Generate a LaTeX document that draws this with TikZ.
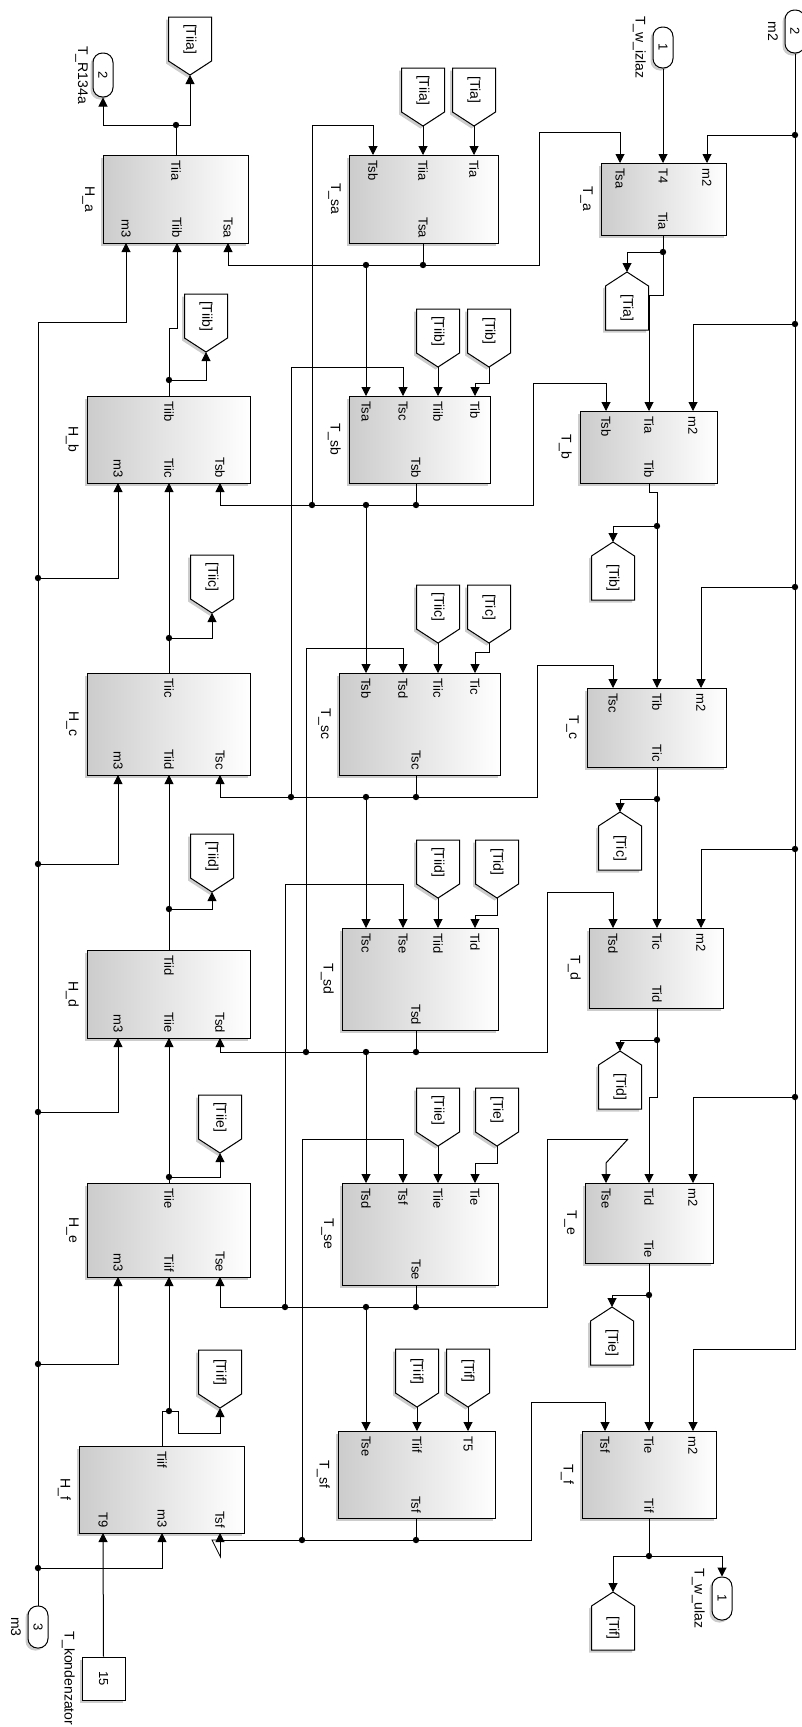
\documentclass[tikz,border=0pt]{standalone}
\usepackage{fontspec}
\setmainfont{Liberation Sans}
\usetikzlibrary{arrows.meta,shadows}
\tikzset{
  shd/.style={drop shadow={shadow xshift=-2.5pt,shadow yshift=-2.5pt,opacity=0.4}},
  blk/.style={draw,line width=1pt,left color=black!20,right color=white,shd,inner sep=0pt},
  gshape/.style={draw,line width=1pt,fill=white,shd},
  pblk/.style={draw,line width=1pt,fill=white,shd,rounded corners=9.5pt,inner sep=0pt,minimum width=20pt,font=\fontsize{13}{15}\selectfont},
  cblk/.style={draw,line width=1pt,fill=white,shd,inner sep=0pt,minimum width=43pt,minimum height=43pt,font=\fontsize{13}{15}\selectfont},
  plab/.style={rotate=-90,inner sep=0pt,font=\fontsize{13}{15}\selectfont},
  nlab/.style={rotate=-90,inner sep=0pt,anchor=north,font=\fontsize{14}{16}\selectfont},
  glab/.style={rotate=-90,inner sep=0pt,font=\fontsize{14}{16}\selectfont},
  wire/.style={line width=1pt},
  arr/.style={line width=1pt,-{Triangle[width=9pt,length=9pt]}},
}
\newcommand\Blk[5]{\node[blk,minimum width={(#4-#2)*1pt},minimum height={(#5-#3)*1pt}] (#1) at ({(#2+#4)/2},{(#3+#5)/2}) {};}
\newcommand\PTop[4]{\coordinate (#1) at (#2,#3); \node[plab,anchor=west] (#1l) at (#2,#3+5) {#4};}
\newcommand\PBot[4]{\coordinate (#1) at (#2,#3); \node[plab,anchor=east] (#1l) at (#2,#3-5) {#4};}
\newcommand\Gdn[4]{%
  \path[gshape] (#2-21.5,#3) -- (#2+21.5,#3) -- (#2+21.5,#3+44) -- (#2,#3+58) -- (#2-21.5,#3+44) -- cycle;
  \node[glab] (#1) at (#2,#3+22) {#4};
  \coordinate (#1-tip) at (#2,#3+58);}
\newcommand\Gup[4]{%
  \path[gshape] (#2,#3) -- (#2+21.5,#3+14) -- (#2+21.5,#3+58) -- (#2-21.5,#3+58) -- (#2-21.5,#3+14) -- cycle;
  \node[glab] (#1) at (#2,#3+36) {#4};
  \coordinate (#1-tip) at (#2,#3);}
\begin{document}
\begin{tikzpicture}[x=1pt,y=-1pt]
\useasboundingbox (0,0) rectangle (801,1727);
\fill[white] (0,0) rectangle (801,1727);

% ---------- blocks ----------
\Blk{Ha}{103}{155}{248}{243}
\Blk{Hb}{87}{396}{250}{483}
\Blk{Hc}{87}{673}{250}{775}
\Blk{Hd}{87}{950}{250}{1038}
\Blk{He}{87}{1183}{250}{1277}
\Blk{Hf}{79}{1446}{244}{1533}
\Blk{Sa}{349}{155}{498}{243}
\Blk{Sb}{349}{396}{490}{483}
\Blk{Sc}{339}{673}{500}{775}
\Blk{Sd}{342}{928}{498}{1030}
\Blk{Se}{342}{1183}{498}{1285}
\Blk{Sf}{338}{1431}{495}{1518}
\Blk{Ta}{601}{163}{726}{235}
\Blk{Tb}{580}{411}{717}{483}
\Blk{Tc}{587}{688}{726}{767}
\Blk{Td}{589}{928}{723}{1008}
\Blk{Te}{585}{1183}{713}{1263}
\Blk{Tf}{582}{1431}{716}{1518}

% block names
\node[nlab] (Ha-n) at (95,199) {H\_a};
\node[nlab] (Hb-n) at (79,439.5) {H\_b};
\node[nlab] (Hc-n) at (79,724) {H\_c};
\node[nlab] (Hd-n) at (79,994) {H\_d};
\node[nlab] (He-n) at (79,1230) {H\_e};
\node[nlab] (Hf-n) at (71,1489.5) {H\_f};
\node[nlab] (Sa-n) at (341,199) {T\_sa};
\node[nlab] (Sb-n) at (341,439.5) {T\_sb};
\node[nlab] (Sc-n) at (331,724) {T\_sc};
\node[nlab] (Sd-n) at (334,979) {T\_sd};
\node[nlab] (Se-n) at (334,1234) {T\_se};
\node[nlab] (Sf-n) at (330,1474.5) {T\_sf};
\node[nlab] (Ta-n) at (593,199) {T\_a};
\node[nlab] (Tb-n) at (572,447) {T\_b};
\node[nlab] (Tc-n) at (579,727.5) {T\_c};
\node[nlab] (Td-n) at (581,968) {T\_d};
\node[nlab] (Te-n) at (577,1223) {T\_e};
\node[nlab] (Tf-n) at (574,1474.5) {T\_f};

% ports H
\PTop{Ha-Tiia}{176}{155}{Tiia} \PBot{Ha-m3}{126}{243}{m3} \PBot{Ha-Tiib}{177}{243}{Tiib} \PBot{Ha-Tsa}{228}{243}{Tsa}
\PTop{Hb-Tiib}{169}{396}{Tiib} \PBot{Hb-m3}{118}{483}{m3} \PBot{Hb-Tiic}{169}{483}{Tiic} \PBot{Hb-Tsb}{220}{483}{Tsb}
\PTop{Hc-Tiic}{169}{673}{Tiic} \PBot{Hc-m3}{118}{775}{m3} \PBot{Hc-Tiid}{169}{775}{Tiid} \PBot{Hc-Tsc}{220}{775}{Tsc}
\PTop{Hd-Tiid}{169}{950}{Tiid} \PBot{Hd-m3}{118}{1038}{m3} \PBot{Hd-Tiie}{169}{1038}{Tiie} \PBot{Hd-Tsd}{220}{1038}{Tsd}
\PTop{He-Tiie}{169}{1183}{Tiie} \PBot{He-m3}{118}{1277}{m3} \PBot{He-Tiif}{169}{1277}{Tiif} \PBot{He-Tse}{220}{1277}{Tse}
\PTop{Hf-Tiif}{162}{1446}{Tiif} \PBot{Hf-T9}{103}{1533}{T9} \PBot{Hf-m3}{162}{1533}{m3} \PBot{Hf-Tsf}{220}{1533}{Tsf}
% ports Ts
\PTop{Sa-Tsb}{373}{155}{Tsb} \PTop{Sa-Tiia}{423}{155}{Tiia} \PTop{Sa-Tia}{474}{155}{Tia} \PBot{Sa-Tsa}{423}{243}{Tsa}
\PTop{Sb-Tsa}{366}{396}{Tsa} \PTop{Sb-Tsc}{403}{396}{Tsc} \PTop{Sb-Tiib}{438}{396}{Tiib} \PTop{Sb-Tib}{475}{396}{Tib} \PBot{Sb-Tsb}{416}{483}{Tsb}
\PTop{Sc-Tsb}{366}{673}{Tsb} \PTop{Sc-Tsd}{403}{673}{Tsd} \PTop{Sc-Tiic}{438}{673}{Tiic} \PTop{Sc-Tic}{475}{673}{Tic} \PBot{Sc-Tsc}{416}{775}{Tsc}
\PTop{Sd-Tsc}{366}{928}{Tsc} \PTop{Sd-Tse}{403}{928}{Tse} \PTop{Sd-Tiid}{438}{928}{Tiid} \PTop{Sd-Tid}{475}{928}{Tid} \PBot{Sd-Tsd}{416}{1030}{Tsd}
\PTop{Se-Tsd}{366}{1183}{Tsd} \PTop{Se-Tsf}{403}{1183}{Tsf} \PTop{Se-Tiie}{438}{1183}{Tiie} \PTop{Se-Tie}{475}{1183}{Tie} \PBot{Se-Tse}{416}{1285}{Tse}
\PTop{Sf-Tse}{366}{1431}{Tse} \PTop{Sf-Tiif}{417}{1431}{Tiif} \PTop{Sf-T5}{468}{1431}{T5} \PBot{Sf-Tsf}{416}{1518}{Tsf}
% ports T
\PTop{Ta-Tsa}{620}{163}{Tsa} \PTop{Ta-T4}{663}{163}{T4} \PTop{Ta-m2}{707}{163}{m2} \PBot{Ta-Tia}{663}{235}{Tia}
\PTop{Tb-Tsb}{606}{411}{Tsb} \PTop{Tb-Tia}{649}{411}{Tia} \PTop{Tb-m2}{693}{411}{m2} \PBot{Tb-Tib}{649}{483}{Tib}
\PTop{Tc-Tsc}{613}{688}{Tsc} \PTop{Tc-Tib}{657}{688}{Tib} \PTop{Tc-m2}{701}{688}{m2} \PBot{Tc-Tic}{657}{767}{Tic}
\PTop{Td-Tsd}{613}{928}{Tsd} \PTop{Td-Tic}{657}{928}{Tic} \PTop{Td-m2}{701}{928}{m2} \PBot{Td-Tid}{657}{1008}{Tid}
\PTop{Te-Tse}{606}{1183}{Tse} \PTop{Te-Tid}{649}{1183}{Tid} \PTop{Te-m2}{693}{1183}{m2} \PBot{Te-Tie}{649}{1263}{Tie}
\PTop{Tf-Tsf}{605}{1431}{Tsf} \PTop{Tf-Tie}{649}{1431}{Tie} \PTop{Tf-m2}{693}{1431}{m2} \PBot{Tf-Tif}{649}{1518}{Tif}

% ---------- goto / from ----------
\Gdn{gTiia}{190}{17}{[Tiia]}
\Gdn{gTiib}{206}{294}{[Tiib]}
\Gdn{gTiic}{212}{555}{[Tiic]}
\Gdn{gTiid}{212}{834}{[Tiid]}
\Gdn{gTiie}{220}{1095}{[Tiie]}
\Gdn{gTiif}{220}{1350}{[Tiif]}
\Gdn{fTiia}{423}{68}{[Tiia]}
\Gdn{fTia}{474}{68}{[Tia]}
\Gdn{fTiib}{438}{309}{[Tiib]}
\Gdn{fTib}{489}{309}{[Tib]}
\Gdn{fTiic}{438}{585}{[Tiic]}
\Gdn{fTic}{489}{585}{[Tic]}
\Gdn{fTiid}{438}{840}{[Tiid]}
\Gdn{fTid}{497}{840}{[Tid]}
\Gdn{fTiie}{438}{1088}{[Tiie]}
\Gdn{fTie}{497}{1088}{[Tie]}
\Gdn{fTiif}{417}{1349}{[Tiif]}
\Gdn{fTif}{468}{1349}{[Tif]}
\Gup{gTia}{627}{272}{[Tia]}
\Gup{gTib}{613}{542}{[Tib]}
\Gup{gTic}{620}{812}{[Tic]}
\Gup{gTid}{620}{1051}{[Tid]}
\Gup{gTie}{612}{1307}{[Tie]}
\Gup{gTif}{613}{1592}{[Tif]}

% ---------- in / out ports ----------
\node[pblk,minimum height=44pt] (Out2) at (103,75) {\rotatebox{-90}{2}};
\node[pblk,minimum height=41pt] (In1) at (663,47.5) {\rotatebox{-90}{1}};
\node[pblk,minimum height=43pt] (In2) at (795,31.5) {\rotatebox{-90}{2}};
\node[pblk,minimum height=42pt] (In3) at (38,1627) {\rotatebox{-90}{3}};
\node[pblk,minimum height=43pt] (Out1) at (722,1598.5) {\rotatebox{-90}{1}};
\node[cblk] (Const) at (103.5,1678.5) {\rotatebox{-90}{15}};
\node[nlab] (Out2-n) at (88,75) {T\_R134a};
\node[nlab] (In1-n) at (646,47.5) {T\_w\_izlaz};
\node[nlab] (In2-n) at (778,31.5) {m2};
\node[nlab] (In3-n) at (21,1627) {m3};
\node[nlab] (Out1-n) at (705,1598.5) {T\_w\_ulaz};
\node[nlab] (Const-n) at (75,1678.5) {T\_kondenzator};

% ---------- junctions ----------
\coordinate (jA) at (176,125);
\coordinate (jm1) at (38,578); \coordinate (jm2) at (38,864); \coordinate (jm3) at (38,1112);
\coordinate (jm4) at (38,1364); \coordinate (jm5) at (38,1568);
\coordinate (jTiib) at (169,380); \coordinate (jTiic) at (169,638); \coordinate (jTiid) at (169,909);
\coordinate (jTiie) at (169,1177); \coordinate (jTiif) at (169,1411);
\coordinate (jsa1) at (423,265); \coordinate (jsa2) at (366,265);
\coordinate (jsb1) at (416,505); \coordinate (jsb2) at (366,505); \coordinate (jsb3) at (312,505);
\coordinate (jsc1) at (416,797); \coordinate (jsc2) at (366,797); \coordinate (jsc3) at (291,797);
\coordinate (jsd1) at (416,1052); \coordinate (jsd2) at (366,1052); \coordinate (jsd3) at (306,1052);
\coordinate (jse1) at (416,1307); \coordinate (jse2) at (366,1307); \coordinate (jse3) at (285,1307);
\coordinate (jsf1) at (416,1540); \coordinate (jsf2) at (302,1540);
\coordinate (jn1) at (795,135); \coordinate (jn2) at (795,324); \coordinate (jn3) at (795,587);
\coordinate (jn4) at (795,849); \coordinate (jn5) at (795,1097);
\coordinate (jta) at (663,252); \coordinate (jtb) at (657,526); \coordinate (jtc) at (657,799);
\coordinate (jtd) at (657,1040); \coordinate (jte) at (649,1295); \coordinate (jtf) at (649,1556);
\coordinate (kTe) at (628,1139);

% ---------- wires: H column ----------
\draw[wire] (Ha-Tiia) -- (jA);
\draw[arr] (jA) -| (Out2.south);
\draw[arr] (jA) -| (gTiia-tip);
\draw[arr] (In3.north) -- (38,322) -| (Ha-m3);
\draw[arr] (jm1) -| (Hb-m3);
\draw[arr] (jm2) -| (Hc-m3);
\draw[arr] (jm3) -| (Hd-m3);
\draw[arr] (jm4) -| (He-m3);
\draw[arr] (jm5) -| (Hf-m3);
\draw[wire] (Hb-Tiib) -- (jTiib);
\draw[arr] (jTiib) -- (169,328) -| (Ha-Tiib);
\draw[arr] (jTiib) -| (gTiib-tip);
\draw[wire] (Hc-Tiic) -- (jTiic);
\draw[arr] (jTiic) -- (Hb-Tiic);
\draw[arr] (jTiic) -| (gTiic-tip);
\draw[wire] (Hd-Tiid) -- (jTiid);
\draw[arr] (jTiid) -- (Hc-Tiid);
\draw[arr] (jTiid) -| (gTiid-tip);
\draw[wire] (He-Tiie) -- (jTiie);
\draw[arr] (jTiie) -- (Hd-Tiie);
\draw[arr] (jTiie) -| (gTiie-tip);
\draw[wire] (Hf-Tiif) |- (jTiif);
\draw[arr] (jTiif) -- (He-Tiif);
\draw[arr] (jTiif) -- (178,1411) -- (178,1433) -| (gTiif-tip);
\draw[arr] (Const.north) -- (Hf-T9);

% ---------- wires: Ts column ----------
\draw[wire] (Sa-Tsa) -- (jsa1);
\draw[arr] (jsa1) -| (Ha-Tsa);
\draw[arr] (jsa2) -- (Sb-Tsa);
\draw[arr] (jsa1) -- (539,265) -- (539,132) -| (Ta-Tsa);
\draw[wire] (Sb-Tsb) -- (jsb1);
\draw[arr] (jsb1) -| (Hb-Tsb);
\draw[arr] (jsb2) -- (Sc-Tsb);
\draw[arr] (jsb3) -- (312,125) -| (Sa-Tsb);
\draw[arr] (jsb1) -- (533,505) -- (533,383) -| (Tb-Tsb);
\draw[wire] (Sc-Tsc) -- (jsc1);
\draw[arr] (jsc1) -| (Hc-Tsc);
\draw[arr] (jsc2) -- (Sd-Tsc);
\draw[arr] (jsc3) -- (291,367) -| (Sb-Tsc);
\draw[arr] (jsc1) -- (537,797) -- (537,665) -| (Tc-Tsc);
\draw[wire] (Sd-Tsd) -- (jsd1);
\draw[arr] (jsd1) -| (Hd-Tsd);
\draw[arr] (jsd2) -- (Se-Tsd);
\draw[arr] (jsd3) -- (306,648) -| (Sc-Tsd);
\draw[arr] (jsd1) -- (547,1052) -- (547,892) -| (Td-Tsd);
\draw[wire] (Se-Tse) -- (jse1);
\draw[arr] (jse1) -| (He-Tse);
\draw[arr] (jse2) -- (Sf-Tse);
\draw[arr] (jse3) -- (285,884) -| (Sd-Tse);
\draw[wire] (jse1) -- (547,1307) -- (547,1139) -- (kTe);
\draw[arr] (kTe) -- (606,1163) -- (Te-Tse);
\draw[wire] (Sf-Tsf) -- (jsf1);
\draw[arr] (jsf1) -| (Hf-Tsf);
\draw[arr] (jsf2) -- (302,1139) -| (Se-Tsf);
\draw[arr] (jsf1) -- (531,1540) -- (531,1402) -| (Tf-Tsf);
\draw[line width=0.8pt] (212,1540) -- (220.5,1540) -- (220.5,1557) -- cycle;
% from blocks
\draw[arr] (fTiia-tip) -- (Sa-Tiia);
\draw[arr] (fTia-tip) -- (Sa-Tia);
\draw[arr] (fTiib-tip) -- (Sb-Tiib);
\draw[arr] (fTib-tip) -- (489,383) -| (Sb-Tib);
\draw[arr] (fTiic-tip) -- (Sc-Tiic);
\draw[arr] (fTic-tip) -- (489,652) -| (Sc-Tic);
\draw[arr] (fTiid-tip) -- (Sd-Tiid);
\draw[arr] (fTid-tip) -- (497,915) -| (Sd-Tid);
\draw[arr] (fTiie-tip) -- (Se-Tiie);
\draw[arr] (fTie-tip) -- (497,1163) -| (Se-Tie);
\draw[arr] (fTiif-tip) -- (Sf-Tiif);
\draw[arr] (fTif-tip) -- (Sf-T5);

% ---------- wires: T column ----------
\draw[arr] (In1.south) -- (Ta-T4);
\draw[arr] (In2.south) -- (795,1349) -| (Tf-m2);
\draw[arr] (jn1) -| (Ta-m2);
\draw[arr] (jn2) -| (Tb-m2);
\draw[arr] (jn3) -| (Tc-m2);
\draw[arr] (jn4) -| (Td-m2);
\draw[arr] (jn5) -| (Te-m2);
\draw[wire] (Ta-Tia) -- (jta);
\draw[arr] (jta) -| (gTia-tip);
\draw[arr] (jta) -- (663,295) -- (649,295) -- (Tb-Tia);
\draw[wire] (Tb-Tib) -- (649,492) -| (jtb);
\draw[arr] (jtb) -| (gTib-tip);
\draw[arr] (jtb) -- (Tc-Tib);
\draw[wire] (Tc-Tic) -- (jtc);
\draw[arr] (jtc) -| (gTic-tip);
\draw[arr] (jtc) -- (Td-Tic);
\draw[wire] (Td-Tid) -- (jtd);
\draw[arr] (jtd) -| (gTid-tip);
\draw[arr] (jtd) -- (657,1097) -- (649,1097) -- (Te-Tid);
\draw[wire] (Te-Tie) -- (jte);
\draw[arr] (jte) -| (gTie-tip);
\draw[arr] (jte) -- (Tf-Tie);
\draw[wire] (Tf-Tif) -- (jtf);
\draw[arr] (jtf) -| (gTif-tip);
\draw[arr] (jtf) -| (Out1.north);

% junction dots
\foreach \j in {jA,jm1,jm2,jm3,jm4,jm5,jTiib,jTiic,jTiid,jTiie,jTiif,jsa1,jsa2,jsb1,jsb2,jsb3,jsc1,jsc2,jsc3,jsd1,jsd2,jsd3,jse1,jse2,jse3,jsf1,jsf2,jn1,jn2,jn3,jn4,jn5,jta,jtb,jtc,jtd,jte,jtf}
  \fill (\j) circle (3.2pt);
\end{tikzpicture}
\end{document}
